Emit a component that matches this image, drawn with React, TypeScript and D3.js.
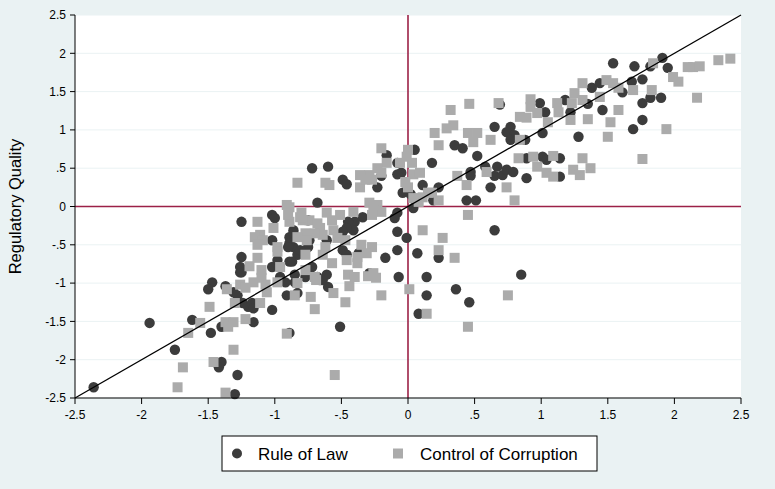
import React from 'react';
import * as d3 from 'd3';

// [control variable, regulatory quality]
const ruleOfLaw: [number, number][] = [
  [1.54, 1.87], [1.70, 1.83], [1.91, 1.94], [1.95, 1.81], [1.76, 1.66], [1.82, 1.83], [1.68, 1.63],
  [1.61, 1.49], [1.38, 1.55], [1.44, 1.61], [1.76, 1.35], [1.82, 1.42], [1.90, 1.42], [1.76, 1.13],
  [1.69, 1.01], [1.46, 1.26], [1.35, 1.34], [1.18, 1.39], [1.22, 1.23], [0.99, 1.35], [1.03, 1.23],
  [0.69, 1.33], [0.65, 1.04], [0.77, 1.04], [0.74, 0.97], [0.80, 0.93], [0.77, 0.87], [0.88, 0.87],
  [1.01, 0.96], [1.28, 0.91], [0.35, 0.80], [0.41, 0.76], [0.52, 0.66], [0.05, 0.74], [0.18, 0.57],
  [0.47, 0.45], [0.47, 0.40], [0.58, 0.52], [0.67, 0.52], [0.65, 0.40], [0.71, 0.41], [0.74, 0.48],
  [0.79, 0.45], [0.89, 0.37], [0.62, 0.25], [0.89, 0.63], [1.01, 0.65], [1.04, 0.61], [1.14, 0.63],
  [1.14, 0.39], [0.11, 0.28], [0.23, 0.25], [0.44, 0.08], [0.51, 0.08], [0.02, 0.16], [-0.04, 0.18],
  [0.04, -0.02], [-0.05, 0.44], [0.85, -0.89], [-0.72, 0.50], [-0.60, 0.52], [-0.49, 0.35],
  [-0.46, 0.29], [-0.23, 0.25], [-0.20, 0.40], [-0.16, 0.67], [-0.08, 0.57], [-0.08, 0.42],
  [0.19, 0.08], [-0.68, 0.05], [-0.08, -0.08], [-0.10, -0.15], [-0.08, -0.33], [-0.01, -0.41],
  [-0.34, -0.14], [-0.40, -0.20], [-0.45, -0.20], [-0.41, -0.31], [-0.49, -0.57], [-0.46, -0.63],
  [-0.37, -0.61], [-0.17, -0.67], [-0.08, -0.57], [0.07, -0.61], [0.23, -0.67], [0.65, -0.31],
  [-0.07, -0.92], [0.14, -0.92], [-0.75, -0.18], [-0.86, -0.31], [-0.89, -0.40], [-0.86, -0.53],
  [-0.75, -0.53], [-0.83, -0.63], [-0.72, -0.79], [-0.85, -0.89], [-0.68, -0.92], [-0.74, -0.44],
  [-0.61, -0.44], [-0.89, -0.72], [-0.77, -0.92], [-0.85, -0.99], [-0.66, -0.96], [-0.60, -1.05],
  [-0.83, -1.13], [0.14, -1.16], [0.08, -1.40], [0.36, -1.08], [0.46, -1.25], [-0.51, -1.57],
  [-0.89, -1.65], [-1.47, -0.99], [-1.50, -1.08], [-1.37, -1.04], [-1.26, -0.86], [-1.31, -1.12],
  [-1.28, -1.16], [-1.24, -1.26], [-1.20, -1.31], [-1.17, -1.26], [-1.02, -1.35], [-0.91, -1.16],
  [-0.92, -0.99], [-1.62, -1.48], [-1.48, -1.65], [-1.40, -1.57], [-1.16, -1.51], [-1.94, -1.52],
  [-1.75, -1.87], [-1.40, -2.03], [-1.42, -2.10], [-1.28, -2.20], [-1.30, -2.45], [-2.36, -2.36],
  [-1.25, -0.20], [-1.02, -0.11], [-1.00, -0.15], [-1.02, -0.44], [-0.86, -0.35], [-0.89, -0.48],
  [-0.90, -0.53], [-1.25, -0.66], [-1.26, -0.79], [-1.25, -0.86], [-1.02, -0.79], [-0.98, -0.70],
  [-0.81, -0.57], [-0.46, -0.28], [-0.49, -0.33], [-0.29, -0.87], [-1.16, -1.33], [-0.87, -0.72],
  [-0.61, -0.89], [-0.64, -0.96], [-0.96, -0.92],
];

const controlOfCorruption: [number, number][] = [
  [2.14, 1.82], [2.10, 1.82], [2.19, 1.83], [2.33, 1.91], [2.42, 1.93], [1.84, 1.87], [1.99, 1.69],
  [2.03, 1.63], [2.17, 1.42], [1.83, 1.52], [1.69, 1.52], [1.58, 1.55], [1.49, 1.65], [1.54, 1.61],
  [1.31, 1.61], [1.25, 1.48], [1.44, 1.43], [1.31, 1.39], [1.23, 1.35], [1.12, 1.35], [1.13, 1.23],
  [1.22, 1.13], [1.35, 1.14], [1.52, 1.10], [1.58, 1.26], [1.94, 1.01], [1.50, 0.91], [1.76, 0.62],
  [0.92, 1.40], [0.92, 1.30], [0.97, 1.22], [0.84, 1.17], [0.89, 1.16], [1.05, 1.10], [0.68, 1.35],
  [0.46, 1.34], [0.32, 1.26], [0.34, 1.06], [0.29, 1.02], [0.20, 0.96], [0.45, 0.96], [0.52, 0.96],
  [0.49, 0.84], [0.62, 0.87], [0.23, 0.80], [0.84, 0.87], [0.83, 0.63], [0.94, 0.65], [1.09, 0.66],
  [1.31, 0.63], [0.97, 0.52], [1.04, 0.44], [1.09, 0.39], [1.24, 0.48], [1.29, 0.41], [1.37, 0.50],
  [0.59, 0.45], [0.44, 0.28], [0.74, 0.25], [0.80, 0.08], [0.37, 0.40], [0.00, 0.74], [-0.01, 0.65],
  [0.03, 0.57], [0.04, 0.42], [0.09, 0.44], [-0.02, 0.32], [0.00, 0.25], [0.18, 0.18], [0.23, 0.08],
  [-0.06, 0.57], [-0.20, 0.76], [-0.16, 0.57], [-0.23, 0.50], [-0.20, 0.44], [-0.29, 0.41],
  [-0.36, 0.41], [-0.36, 0.25], [-0.32, 0.35], [-0.27, 0.35], [-0.59, 0.28], [-0.62, 0.31],
  [-0.83, 0.31], [0.45, -0.11], [0.15, 0.18], [0.11, 0.12], [0.08, 0.06], [0.04, 0.11], [0.11, -0.31],
  [0.26, -0.41], [0.23, -0.57], [0.35, -0.67], [-0.29, 0.05], [-0.23, 0.02], [-0.26, -0.05],
  [-0.20, -0.07], [-0.27, -0.11], [-0.41, -0.07], [-0.51, -0.11], [-0.57, -0.18], [-0.61, -0.08],
  [-0.74, -0.18], [-0.80, -0.08], [-0.79, -0.18], [-0.68, -0.22], [-0.66, -0.28], [-0.56, -0.31],
  [-0.64, -0.37], [-0.53, -0.41], [-0.70, -0.35], [-0.77, -0.35], [-0.83, -0.40], [-0.76, -0.44],
  [-0.47, -0.44], [-0.62, -0.53], [-0.35, -0.50], [-0.27, -0.53], [-0.31, -0.61], [-0.38, -0.66],
  [-0.77, -0.63], [-0.57, -0.74], [-0.64, -0.63], [-0.46, -0.70], [-0.38, -0.74], [-0.26, -0.87],
  [-0.45, -0.89], [-0.40, -0.92], [-0.77, -0.83], [-0.70, -0.92], [-0.89, -0.01], [-0.89, -0.20],
  [-0.83, -1.00], [-0.69, -0.96], [-0.44, -1.04], [-0.30, -0.91], [-0.24, -0.93], [-0.85, -1.16],
  [-0.73, -1.18], [-0.56, -1.13], [-0.47, -1.25], [-0.70, -1.34], [-0.20, -1.16], [0.01, -1.08],
  [0.14, -1.40], [0.45, -1.57], [0.75, -1.16], [-0.55, -2.20], [-1.36, -1.08], [-1.26, -1.02],
  [-1.22, -1.06], [-1.16, -0.99], [-1.10, -0.93], [-1.07, -1.02], [-1.06, -1.12], [-0.98, -0.99],
  [-1.11, -1.26], [-1.30, -1.26], [-1.49, -1.31], [-1.56, -1.52], [-1.65, -1.65], [-1.37, -1.51],
  [-1.31, -1.51], [-1.35, -1.57], [-1.22, -1.47], [-0.91, -1.66], [-1.31, -1.87], [-1.46, -2.03],
  [-1.69, -2.10], [-1.73, -2.36], [-1.37, -2.43], [-0.91, 0.02], [-0.90, -0.11], [-1.13, -0.20],
  [-1.01, -0.28], [-1.11, -0.37], [-1.15, -0.40], [-1.09, -0.44], [-1.13, -0.50], [-0.98, -0.53],
  [-0.98, -0.59], [-1.13, -0.67], [-1.19, -0.78], [-1.10, -0.83], [-0.96, -0.79], [-0.81, -0.14],
];

const xTicks = [-2.5, -2, -1.5, -1, -0.5, 0, 0.5, 1, 1.5, 2, 2.5];
const yTicks = [-2.5, -2, -1.5, -1, -0.5, 0, 0.5, 1, 1.5, 2, 2.5];

const W = 775;
const H = 489;
const margin = { left: 75, right: 34, top: 15, bottom: 91 };
const bg = '#eaf2f3';
const darkCol = '#3c3c3c';
const lightCol = '#ababab';
const refCol = '#9c2147';
const font = '"Liberation Sans", Arial, Helvetica, sans-serif';

const fmt = (v: number) => {
  const s = String(v);
  return s.replace(/^0\./, '.').replace(/^-0\./, '-.');
};

export default function App() {
  const x = d3.scaleLinear().domain([-2.5, 2.5]).range([margin.left, W - margin.right]);
  const y = d3.scaleLinear().domain([-2.5, 2.5]).range([H - margin.bottom, margin.top]);
  const [x0, x1] = x.range();
  const [y0, y1] = y.range();
  const diag = d3.line<number>().x(d => x(d)).y(d => y(d))([-2.5, 2.5]) || '';
  const sq = 10;

  return (
    <svg width={W} height={H} style={{ position: 'absolute', left: 0, top: 0, fontFamily: font }}>
      <rect width={W} height={H} fill={bg} />
      <rect x={x0} y={y1} width={x1 - x0} height={y0 - y1} fill="#fff" />

      {/* grid */}
      {yTicks.map(t => (
        <line key={'g' + t} x1={x0} x2={x1} y1={y(t)} y2={y(t)} stroke={bg} strokeWidth={1} />
      ))}

      {/* reference lines */}
      <line x1={x(0)} x2={x(0)} y1={y1} y2={y0} stroke={refCol} strokeWidth={1.6} />
      <line x1={x0} x2={x1} y1={y(0)} y2={y(0)} stroke={refCol} strokeWidth={1.6} />

      {ruleOfLaw.map((d, i) => (
        <circle key={'r' + i} cx={x(d[0])} cy={y(d[1])} r={5.2} fill={darkCol} />
      ))}
      {controlOfCorruption.map((d, i) => (
        <rect key={'c' + i} x={x(d[0]) - sq / 2} y={y(d[1]) - sq / 2} width={sq} height={sq} fill={lightCol} />
      ))}

      <path d={diag} stroke="#000" strokeWidth={1.3} fill="none" />

      {/* axes */}
      <line x1={x0} x2={x0} y1={y1} y2={y0} stroke="#000" strokeWidth={1} />
      <line x1={x0} x2={x1} y1={y0} y2={y0} stroke="#000" strokeWidth={1} />
      {yTicks.map(t => (
        <g key={'y' + t}>
          <line x1={x0 - 5} x2={x0} y1={y(t)} y2={y(t)} stroke="#000" />
          <text x={x0 - 9} y={y(t)} dy="0.35em" textAnchor="end" fontSize={12} fill="#000">{fmt(t)}</text>
        </g>
      ))}
      {xTicks.map(t => (
        <g key={'x' + t}>
          <line x1={x(t)} x2={x(t)} y1={y0} y2={y0 + 6} stroke="#000" />
          <text x={x(t)} y={y0 + 21} textAnchor="middle" fontSize={12} fill="#000">{fmt(t)}</text>
        </g>
      ))}
      <text transform={`translate(21,${(y0 + y1) / 2}) rotate(-90)`} textAnchor="middle" fontSize={16.5} fill="#000">
        Regulatory Quality
      </text>

      {/* legend */}
      <g>
        <rect x={222} y={436} width={375} height={35} fill="#fff" stroke="#000" strokeWidth={1} />
        <circle cx={237} cy={453.5} r={5} fill={darkCol} />
        <text x={258} y={459.5} fontSize={17} fill="#000">Rule of Law</text>
        <rect x={398 - sq / 2} y={453.5 - sq / 2} width={sq} height={sq} fill={lightCol} />
        <text x={420} y={459.5} fontSize={17} fill="#000">Control of Corruption</text>
      </g>
    </svg>
  );
}
